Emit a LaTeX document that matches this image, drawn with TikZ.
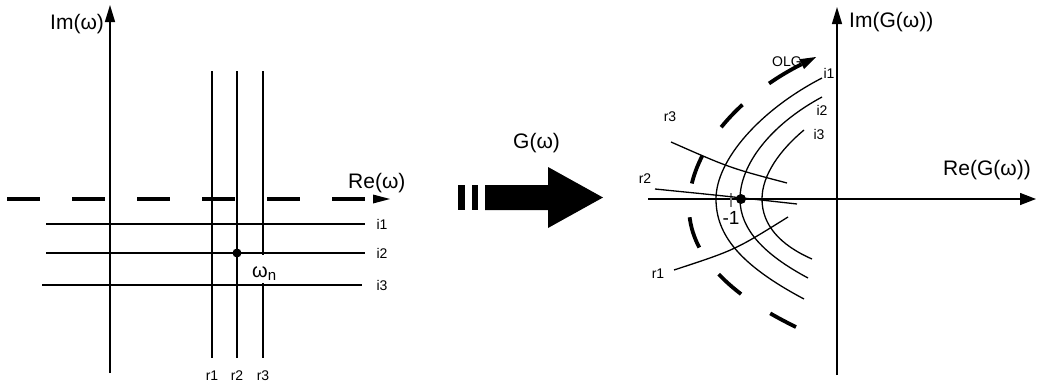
\documentclass[tikz,border=0pt]{standalone}
\usepackage{fontspec}
\setmainfont{Liberation Sans}
\usetikzlibrary{arrows.meta}
\tikzset{
  thinline/.style={line width=1.3pt},
  axis/.style={line width=1.4pt,-{Triangle[length=17pt,width=10pt]}},
  bigfont/.style={font=\fontsize{21}{24}\selectfont, inner sep=0pt},
  smallfont/.style={font=\fontsize{14}{16}\selectfont, inner sep=0pt},
  dot/.style={circle,fill=black,inner sep=0pt,minimum size=#1},
}
\begin{document}
\begin{tikzpicture}[x=1pt,y=-1pt]
\useasboundingbox (0,0) rectangle (1037,386);
% ---------- left panel ----------
\coordinate (imB) at (110,373); \coordinate (imT) at (110,5);
\draw[axis] (imB) -- (imT);
\node[bigfont,anchor=base west] (imL) at (50,29) {Im(ω)};
\coordinate (reL) at (7,199); \coordinate (reR) at (390,199);
\draw[line width=4pt,dash pattern=on 33pt off 32pt,
  -{Triangle[length=17pt,width=9pt,line width=0pt]}] (reL) -- (reR);
\node[bigfont,anchor=base west] (reLab) at (348,188) {Re(ω)};
% horizontal lines
\coordinate (i1a) at (46,224); \coordinate (i1b) at (365,224);
\coordinate (i2a) at (46,253); \coordinate (i2b) at (365,253);
\coordinate (i3a) at (42,285); \coordinate (i3b) at (362,285);
\draw[thinline] (i1a) -- (i1b);
\draw[thinline] (i2a) -- (i2b);
\draw[thinline] (i3a) -- (i3b);
\node[smallfont] (li1) at (382,224) {i1};
\node[smallfont] (li2) at (382,253) {i2};
\node[smallfont] (li3) at (382,285) {i3};
% vertical lines
\coordinate (r1a) at (212,71); \coordinate (r1b) at (212,358);
\coordinate (r2a) at (237,71); \coordinate (r2b) at (237,358);
\coordinate (r3a) at (263,71); \coordinate (r3m) at (263,255);
\coordinate (r3n) at (263,283); \coordinate (r3b) at (263,358);
\draw[thinline] (r1a) -- (r1b);
\draw[thinline] (r2a) -- (r2b);
\draw[thinline] (r3a) -- (r3m);
\draw[thinline] (r3n) -- (r3b);
\node[smallfont] (lr1) at (212,376) {r1};
\node[smallfont] (lr2) at (237,376) {r2};
\node[smallfont] (lr3) at (263,376) {r3};
\node[dot=9pt] (wn) at (237,253) {};
\node[inner sep=0pt,anchor=base west,font=\fontsize{20}{22}\selectfont] (wnL) at (252,277)
  {ω\raisebox{-0.35ex}{\fontsize{15}{16}\selectfont n}};
% ---------- middle arrow ----------
\fill (458,185) rectangle (465,210);
\fill (472,185) rectangle (478,210);
\fill (485,185) -- (548,185) -- (548,167) -- (603,197.5) -- (548,228) -- (548,210) -- (485,210) -- cycle;
\node[bigfont,anchor=base west] (gL) at (513,148) {G(ω)};
% ---------- right panel ----------
\coordinate (gimB) at (837,375); \coordinate (gimT) at (837,7);
\draw[axis] (gimB) -- (gimT);
\node[bigfont,anchor=base west] (gimL) at (849,27) {Im(G(ω))};
\coordinate (greL) at (648,199); \coordinate (greR) at (1036,199);
\draw[line width=1.4pt,-{Triangle[length=16pt,width=12pt]}] (greL) -- (greR);
\node[bigfont,anchor=base west] (greLab) at (943,175) {Re(G(ω))};
% -1 tick
\coordinate (tkA) at (731,193); \coordinate (tkB) at (731,207);
\draw[line width=1.2pt,gray] (tkA) -- (tkB);
\node[inner sep=0pt,font=\fontsize{19}{21}\selectfont] (m1) at (731,218) {-1};
% i curves
\draw[thinline] (822,78) .. controls (760,110) and (716,160) .. (716,199)
  .. controls (716,235) and (740,265) .. (804,299);
\draw[thinline] (822,97) .. controls (770,125) and (740,165) .. (740,199)
  .. controls (740,230) and (765,255) .. (808,278);
\draw[thinline] (804,130) .. controls (780,150) and (762,175) .. (762,199)
  .. controls (762,225) and (780,245) .. (812,259);
\node[smallfont] (gi1) at (829,73) {i1};
\node[smallfont] (gi2) at (822,110) {i2};
\node[smallfont] (gi3) at (819,134) {i3};
% r curves
\draw[thinline] (671,142) .. controls (730,168) .. (787,183);
\draw[thinline] (655,189) .. controls (725,196) .. (797,204);
\draw[thinline] (674,270) .. controls (735,250) .. (788,217);
\node[smallfont] (gr3) at (670,117) {r3};
\node[smallfont] (gr2) at (645,179) {r2};
\node[smallfont] (gr1) at (658,274) {r1};
% OLG dashed
\node[smallfont] (olg) at (787,62) {OLG};
\draw[line width=3.8pt,
  dash pattern=on 38pt off 34pt on 31pt off 34pt on 30pt off 34pt on 32pt off 33pt on 30pt off 35pt on 30pt off 80pt,
  {Triangle[length=16pt,width=11pt,line width=0pt]}-]
  (816,57) .. controls (740,95) and (690,150) .. (689,205)
  .. controls (688,255) and (730,295) .. (796,327);
\node[dot=10pt] (m1dot) at (741,199) {};
\end{tikzpicture}
\end{document}
